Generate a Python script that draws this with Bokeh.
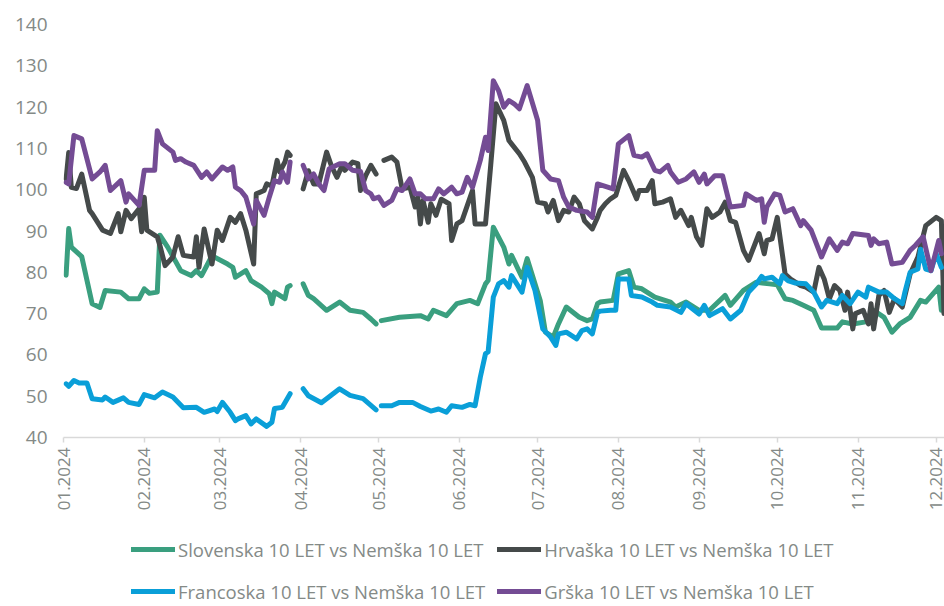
import numpy as np
import pandas as pd
from math import pi
from bokeh.plotting import figure
from bokeh.layouts import column
from bokeh.models import Range1d, FixedTicker, DatetimeTickFormatter, Legend, LegendItem
from bokeh.embed import file_html
from bokeh.resources import INLINE

YEAR = 2024
NA = float("nan")

# ---- data (MM-DD of 2024, spread in basis points vs German 10Y) ----
slo_dates = ["01-02","01-03","01-04","01-08","01-12","01-15","01-17","01-23","01-26","01-30",
             "02-01","02-03","02-06","02-07","02-10","02-15","02-19","02-21","02-23","02-27",
             "03-04","03-06","03-07","03-11","03-13","03-17","03-20","03-21","03-22","03-26",
             "03-27","03-28","03-29","04-02","04-04","04-06","04-11","04-16","04-20","04-25",
             "04-28","04-30","05-01","05-02","05-09","05-17","05-20","05-22","05-27","05-31",
             "06-05","06-08","06-11","06-12","06-14","06-18","06-20","06-21","06-25","06-27",
             "07-02","07-04","07-07","07-09","07-12","07-17","07-20","07-22","07-24","07-25",
             "07-30","08-01","08-05","08-07","08-10","08-15","08-21","08-23","08-27","09-01",
             "09-05","09-11","09-13","09-18","09-23","09-28","10-01","10-04","10-07","10-11",
             "10-15","10-18","10-24","10-26","10-30","11-04","11-07","11-11","11-14","11-17",
             "11-21","11-25","11-27","12-02","12-03"]
slo_vals = [79.3,90.6,86.1,83.8,72.4,71.5,75.6,75.2,73.6,73.6,
            76.0,74.9,75.2,89.0,86.1,80.4,79.2,80.4,79.2,84.0,
            82.0,81.2,78.8,80.4,78.0,76.4,74.8,72.4,75.2,73.6,
            76.4,76.8,NA,77.2,74.4,73.6,70.8,72.8,70.8,70.3,
            68.7,67.5,NA,68.3,69.1,69.5,68.7,70.8,69.5,72.4,
            73.2,72.4,77.2,78.0,90.9,86.1,82.0,84.1,78.8,83.3,
            73.2,65.5,64.3,67.5,71.6,69.1,68.3,68.7,72.4,72.8,
            73.2,79.6,80.4,76.4,76.0,74.0,72.8,71.6,72.8,70.8,
            70.8,74.4,72.0,75.6,77.6,77.2,77.0,73.6,73.2,72.0,
            70.8,66.5,66.5,68.0,67.5,68.0,70.8,69.1,65.5,67.5,
            69.1,73.2,72.8,76.4,70.8]

hrv_dates = ["01-02","01-03","01-04","01-06","01-08","01-11","01-12","01-16","01-19","01-22",
             "01-23","01-25","01-27","01-30","01-31","02-01","02-02","02-06","02-07","02-09",
             "02-12","02-14","02-16","02-20","02-21","02-22","02-24","02-27","02-29","03-02",
             "03-05","03-07","03-09","03-11","03-14","03-15","03-18","03-19","03-21","03-23",
             "03-24","03-26","03-27","03-28","03-29","04-02","04-04","04-06","04-08","04-11",
             "04-13","04-15","04-17","04-18","04-21","04-23","04-24","04-26","04-28","04-30",
             "05-01","05-03","05-06","05-08","05-10","05-13","05-15","05-16","05-17","05-18",
             "05-20","05-21","05-23","05-25","05-28","05-29","05-31","06-02","06-06","06-07",
             "06-11","06-13","06-15","06-18","06-20","06-24","06-26","06-29","07-01","07-04",
             "07-05","07-07","07-09","07-11","07-13","07-15","07-17","07-19","07-22","07-24",
             "07-25","07-27","07-29","07-31","08-03","08-05","08-08","08-09","08-12","08-14",
             "08-15","08-18","08-21","08-23","08-25","08-28","08-29","08-31","09-02","09-04",
             "09-06","09-09","09-11","09-13","09-15","09-18","09-20","09-24","09-26","09-27",
             "09-29","10-01","10-04","10-06","10-10","10-12","10-15","10-17","10-19","10-21",
             "10-23","10-25","10-27","10-28","10-30","10-31","11-03","11-05","11-06","11-07",
             "11-09","11-11","11-13","11-15","11-18","11-21","11-24","11-27","12-01","12-03",
             "12-04"]
hrv_vals = [102.6,109.0,100.6,100.3,103.8,95.0,94.2,90.2,89.4,94.2,
            89.8,95.0,93.0,95.4,89.8,98.2,90.2,88.6,86.5,81.6,
            83.7,88.6,84.1,83.7,88.6,81.2,90.5,82.0,90.2,87.7,
            93.3,92.1,94.2,90.2,82.0,99.0,99.8,101.4,100.9,107.1,
            104.3,106.7,109.1,108.3,NA,100.2,104.6,101.4,101.4,109.1,
            105.5,103.0,105.9,104.7,106.7,106.3,99.8,103.4,105.9,103.8,
            NA,107.1,107.9,106.7,100.2,100.6,95.8,98.2,91.7,97.4,
            92.1,96.6,93.8,97.7,96.6,87.7,91.7,92.5,99.8,91.7,
            91.7,105.9,120.8,116.8,111.9,108.7,106.7,103.0,97.0,96.6,
            94.6,97.4,92.5,95.0,94.6,98.2,96.6,92.5,90.5,93.3,
            95.0,96.6,97.8,98.6,104.7,102.2,97.8,99.8,99.8,102.2,
            96.6,97.0,97.8,93.3,95.0,91.3,93.3,88.6,86.5,95.4,
            93.3,94.6,97.0,92.5,92.1,85.3,82.9,89.4,84.5,87.7,
            88.1,93.3,79.6,78.4,76.8,76.4,75.2,81.2,78.4,73.6,
            76.8,75.6,70.8,75.2,66.3,70.0,70.8,67.5,72.4,66.3,
            74.4,75.6,70.3,73.6,71.6,79.6,83.7,91.3,93.3,92.5,
            70.0]

fra_dates = ["01-02","01-03","01-05","01-07","01-10","01-12","01-16","01-17","01-20","01-24",
             "01-26","01-30","02-01","02-05","02-08","02-12","02-16","02-21","02-24","02-28",
             "02-29","03-02","03-05","03-07","03-08","03-11","03-13","03-15","03-19","03-21",
             "03-22","03-25","03-28","03-29","04-02","04-04","04-09","04-16","04-20","04-25",
             "04-30","05-01","05-02","05-06","05-09","05-14","05-17","05-21","05-24","05-27",
             "05-29","06-02","06-05","06-07","06-09","06-11","06-12","06-14","06-16","06-18",
             "06-20","06-21","06-25","06-27","06-30","07-03","07-06","07-08","07-09","07-12",
             "07-16","07-18","07-20","07-22","07-24","07-25","07-29","07-31","08-01","08-05",
             "08-06","08-10","08-14","08-16","08-21","08-25","08-27","09-01","09-03","09-05",
             "09-10","09-13","09-17","09-20","09-23","09-25","09-26","09-29","10-02","10-03",
             "10-05","10-08","10-12","10-15","10-18","10-20","10-24","10-26","10-29","11-01",
             "11-04","11-05","11-09","11-12","11-15","11-18","11-19","11-21","11-24","11-25",
             "11-27","11-29","12-01","12-03"]
fra_vals = [53.0,52.4,53.8,53.2,53.2,49.4,49.1,49.8,48.5,49.6,
            48.5,48.0,50.4,49.6,51.0,49.8,47.2,47.3,46.1,46.9,
            46.3,48.5,46.1,44.1,44.5,45.3,43.3,44.5,42.7,43.7,
            47.0,47.3,50.6,NA,51.8,50.1,48.4,51.8,50.2,49.4,
            46.7,NA,47.7,47.7,48.5,48.5,47.5,46.4,46.9,46.1,
            47.7,47.3,48.0,47.7,54.6,60.3,60.7,74.0,77.2,78.0,
            76.4,79.2,75.2,81.2,75.6,66.3,64.3,62.3,65.1,65.5,
            63.9,65.9,66.3,65.1,70.3,70.6,70.8,70.8,78.4,78.4,
            74.4,74.0,72.8,72.0,71.6,70.3,72.4,69.9,72.0,69.5,
            71.2,68.7,70.8,75.2,77.2,79.0,78.4,78.8,77.2,79.2,
            78.0,77.4,77.2,75.2,71.6,73.2,72.4,74.4,72.4,75.2,
            74.0,76.4,75.2,75.2,73.6,72.4,75.2,80.0,80.8,85.6,
            80.8,80.4,84.5,81.2]

grk_dates = ["01-02","01-03","01-05","01-08","01-12","01-15","01-17","01-19","01-23","01-25",
             "01-26","01-30","02-01","02-05","02-06","02-08","02-12","02-13","02-15","02-17",
             "02-20","02-23","02-25","02-27","03-02","03-04","03-06","03-07","03-09","03-11",
             "03-14","03-15","03-18","03-20","03-22","03-24","03-25","03-27","03-28","03-29",
             "04-02","04-04","04-06","04-08","04-10","04-12","04-16","04-18","04-21","04-24",
             "04-26","04-28","04-29","05-01","05-03","05-06","05-08","05-10","05-13","05-15",
             "05-17","05-19","05-22","05-24","05-26","05-29","05-31","06-02","06-04","06-06",
             "06-09","06-11","06-12","06-14","06-16","06-18","06-20","06-22","06-24","06-27",
             "07-01","07-03","07-06","07-09","07-11","07-13","07-16","07-20","07-22","07-24",
             "07-30","08-01","08-05","08-07","08-10","08-12","08-15","08-17","08-20","08-21",
             "08-24","08-27","08-30","09-01","09-03","09-04","09-07","09-10","09-13","09-18",
             "09-19","09-23","09-25","09-26","09-27","09-30","10-02","10-04","10-07","10-10",
             "10-11","10-14","10-18","10-21","10-24","10-26","10-28","10-30","11-05","11-06",
             "11-07","11-09","11-12","11-14","11-18","11-21","11-23","11-26","11-29","12-02",
             "12-03"]
grk_vals = [101.8,101.4,113.1,112.3,102.6,104.3,105.9,99.8,102.2,97.0,
            99.0,96.2,104.7,104.7,114.3,111.1,109.1,107.1,107.5,106.7,
            105.9,103.0,104.3,102.6,105.5,104.7,105.5,100.6,99.8,98.2,
            91.7,97.4,93.8,98.2,102.2,101.8,104.3,101.8,106.7,NA,
            105.9,102.6,103.8,101.4,99.8,105.1,106.3,106.3,104.7,104.4,
            99.8,99.0,97.8,98.2,96.2,97.4,100.2,99.8,102.6,99.0,
            99.0,97.8,97.8,100.2,99.0,100.6,99.0,99.4,103.0,100.6,
            107.1,112.7,109.5,126.4,124.0,120.0,121.6,120.8,119.6,125.2,
            116.8,104.7,102.6,102.2,98.2,95.8,95.0,94.6,93.3,101.4,
            100.2,111.1,113.1,108.3,107.9,108.7,104.7,104.3,105.9,104.3,
            101.8,102.6,104.3,101.8,103.8,101.4,103.4,103.4,95.8,96.2,
            99.0,97.4,97.8,92.1,95.8,99.0,98.6,94.6,95.4,91.3,
            92.5,90.2,83.7,88.1,85.3,87.3,86.9,89.4,88.9,86.5,
            88.1,86.9,87.3,82.0,82.4,85.3,86.5,88.6,80.4,87.7,
            84.5]

series_names = ["Slovenska 10 LET vs Nemška 10 LET", "Hrvaška 10 LET vs Nemška 10 LET",
                "Francoska 10 LET vs Nemška 10 LET", "Grška 10 LET vs Nemška 10 LET"]
series_colors = ["#3a9f7f", "#454a4a", "#0a9fd8", "#744c94"]
month_ticks = ["01-01","02-01","03-01","04-01","05-01","06-01","07-01","08-01",
               "09-01","10-01","11-01","12-01"]
y_ticks = [40, 50, 60, 70, 80, 90, 100, 110, 120, 130, 140]


def to_dt(md):
    return pd.to_datetime([f"{YEAR}-{d}" for d in md])


series = [(slo_dates, slo_vals), (hrv_dates, hrv_vals),
          (fra_dates, fra_vals), (grk_dates, grk_vals)]

start = pd.Timestamp(f"{YEAR}-01-01")
end = start + pd.Timedelta(days=338.2)

MAIN_H = 515
LEG_H = 606 - MAIN_H

p = figure(width=944, height=MAIN_H, x_axis_type="datetime",
           output_backend="svg", toolbar_location=None,
           x_range=Range1d(start, end), y_range=Range1d(40, 140),
           min_border_left=63, min_border_right=0, min_border_top=24,
           min_border_bottom=MAIN_H - 437)
p.outline_line_color = None
p.grid.grid_line_color = None
p.background_fill_color = "white"
p.border_fill_color = "white"

for (d, v), col in zip(series, series_colors):
    p.line(to_dt(d), np.array(v, dtype=float), line_color=col, line_width=5,
           line_join="round", line_cap="round")

GRAY = "#848a87"
# x axis
xa = p.xaxis[0]
xa.ticker = FixedTicker(ticks=[int(t.value // 10**6) for t in to_dt(month_ticks)])
xa.formatter = DatetimeTickFormatter(months="%m.%Y", days="%m.%Y", years="%m.%Y",
                                     hours="%m.%Y", minutes="%m.%Y")
xa.major_label_orientation = pi / 2
xa.axis_line_color = "#d9d9d9"
xa.axis_line_width = 1.5
xa.major_tick_line_color = "#d9d9d9"
xa.major_tick_line_width = 1.5
xa.major_tick_out = 5
xa.major_tick_in = 0
xa.minor_tick_line_color = None
xa.major_label_standoff = 5
xa.major_label_text_color = GRAY
xa.major_label_text_font = "Open Sans"
xa.major_label_text_font_size = "17px"

# y axis
ya = p.yaxis[0]
ya.ticker = FixedTicker(ticks=y_ticks)
ya.axis_line_color = None
ya.major_tick_line_color = None
ya.minor_tick_line_color = None
ya.major_label_standoff = 10
ya.major_label_text_color = GRAY
ya.major_label_text_font = "Open Sans"
ya.major_label_text_font_size = "19px"

# legend strip: a second figure whose frame is aligned with the main one;
# its renderers carry the same series but fall outside its (0..1) y range.
lf = figure(width=944, height=LEG_H, x_axis_type="datetime", output_backend="svg",
            toolbar_location=None, x_range=p.x_range, y_range=Range1d(0, 1),
            min_border_left=0, min_border_right=0, min_border_top=0, min_border_bottom=0)
lf.axis.visible = False
lf.grid.grid_line_color = None
lf.outline_line_color = None
items = []
for name, (d, v), col in zip(series_names, series, series_colors):
    r = lf.line(to_dt(d), np.array(v, dtype=float), line_color=col, line_width=5,
                line_cap="round")
    items.append(LegendItem(label=name, renderers=[r]))

legend = Legend(items=items, ncols=2, orientation="horizontal", location=(68, 0),
                glyph_width=44, glyph_height=30, label_standoff=3, spacing=12,
                padding=0, margin=0, border_line_color=None, background_fill_alpha=0,
                label_text_color=GRAY, label_text_font="Open Sans",
                label_text_font_size="18.5px", label_height=30)
lf.add_layout(legend, "center")

layout = column(p, lf, spacing=0)
open("out.html", "w").write(file_html(layout, INLINE))
